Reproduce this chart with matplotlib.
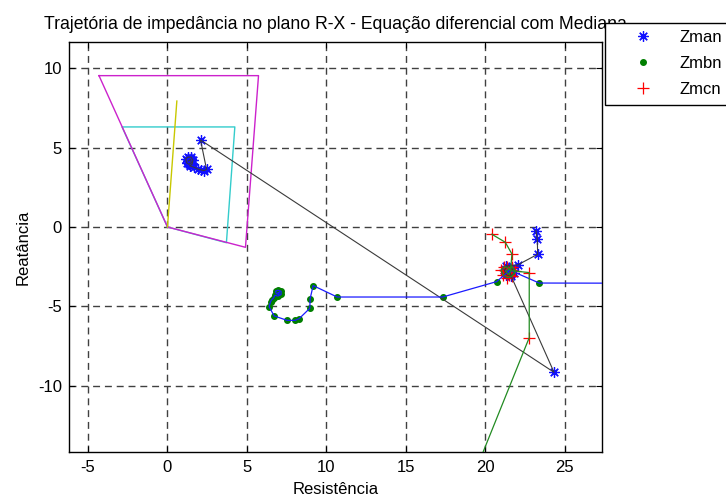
import matplotlib
matplotlib.use("Agg")
import matplotlib.pyplot as plt

plt.rcParams['font.family'] = ['Liberation Sans', 'DejaVu Sans']
plt.rcParams['axes.unicode_minus'] = False

# Relay characteristic zones (R, X)
zone2_r = [-4.31, 5.73, 4.91, 0.0, -4.31]
zone2_x = [9.53, 9.53, -1.28, 0.0, 9.53]
zone1_r = [0.0, 3.71, 4.24, -2.86, 0.0]
zone1_x = [0.0, -0.99, 6.30, 6.30, 0.0]
line_r = [0.0, 0.59]
line_x = [0.0, 7.93]

# Phase A apparent impedance trajectory
zman_r = [1.30, 1.45, 1.50, 1.35, 1.20, 1.15, 1.30, 1.50, 1.60, 1.55, 1.40, 1.70,
          1.90, 2.10, 2.30, 2.46, 2.08, 24.33,
          21.50, 21.40, 21.70, 21.80, 21.60, 21.30, 21.20, 21.40, 21.30, 22.04,
          23.30, 23.28, 23.19]
zman_x = [4.15, 4.25, 4.05, 3.95, 4.05, 4.30, 4.40, 4.40, 4.20, 3.95, 3.85, 3.75,
          3.65, 3.60, 3.55, 3.63, 5.48, -9.15,
          -2.80, -2.85, -2.60, -2.90, -3.10, -3.00, -2.70, -2.50, -2.45, -2.39,
          -1.72, -0.78, -0.23]

# Phase B apparent impedance trajectory
zmbn_r = [6.95, 7.05, 7.00, 6.85, 6.80, 6.95, 7.15, 7.15, 6.95, 6.75, 6.70, 6.55,
          6.49, 6.40, 6.71, 7.53, 8.04, 8.29, 8.96, 8.98, 9.17, 10.68, 17.32,
          20.72, 21.45, 21.30, 21.55, 21.60, 21.40, 21.50, 23.40, 35.00]
zmbn_x = [-4.15, -4.10, -4.25, -4.20, -4.05, -3.98, -4.05, -4.25, -4.35, -4.30, -4.45, -4.60,
          -4.70, -5.02, -5.60, -5.88, -5.88, -5.77, -5.12, -4.51, -3.69, -4.41, -4.41,
          -3.44, -2.81, -2.75, -2.65, -2.85, -2.90, -2.70, -3.53, -3.55]

# Phase C apparent impedance trajectory
zmcn_r = [20.42, 21.26, 21.68, 21.60, 21.40, 21.20, 21.00, 21.10, 21.40, 21.70, 21.90,
          21.70, 21.30, 21.50, 21.60, 22.77, 22.77, 19.29]
zmcn_x = [-0.46, -0.96, -1.70, -2.70, -2.55, -2.50, -2.70, -3.00, -3.20, -3.10, -2.80,
          -2.50, -2.80, -3.00, -2.75, -2.87, -6.97, -15.60]

x_ticks = [-5, 0, 5, 10, 15, 20, 25]
y_ticks = [-10, -5, 0, 5, 10]

fig = plt.figure(figsize=(7.26, 5.01), dpi=100)
ax = fig.add_axes([0.0950, 0.0978, 0.7342, 0.8184])

ax.plot(zone1_r, zone1_x, color='#33cccc', lw=1.0, zorder=2)
ax.plot(zone2_r, zone2_x, color='#cc22cc', lw=1.0, zorder=2)
ax.plot(line_r, line_x, color='#c8c800', lw=1.0, zorder=2)

h1, = ax.plot(zman_r, zman_x, linestyle='none', marker=(8, 2, 0), ms=7.5,
              mec='#1010ff', mew=0.9, label='Zman', zorder=3)
h2, = ax.plot(zmbn_r, zmbn_x, linestyle='none', marker='o', ms=4,
              mfc='#007f00', mec='#007f00', label='Zmbn', zorder=3)
h3, = ax.plot(zmcn_r, zmcn_x, linestyle='none', marker='+', ms=8,
              mec='#ff0000', mew=0.9, label='Zmcn', zorder=3)

ax.plot(zman_r, zman_x, color='#3a3a3a', lw=0.8, zorder=4)
ax.plot(zmbn_r, zmbn_x, color='#1a1aff', lw=0.9, zorder=4)
ax.plot(zmcn_r, zmcn_x, color='#228b22', lw=0.9, zorder=4)

ax.set_xlim(-6.2, 27.35)
ax.set_ylim(-14.17, 11.65)
ax.set_xticks(x_ticks)
ax.set_yticks(y_ticks)
ax.grid(True, color='#404040', lw=1.0, linestyle=(0, (5, 3.5)))
ax.set_axisbelow(True)
ax.tick_params(direction='in', top=True, right=True, length=4, labelsize=12)
ax.tick_params(axis='x', pad=6)
ax.tick_params(axis='y', pad=5)
for s in ax.spines.values():
    s.set_linewidth(1.0)

ax.set_title('Trajetória de impedância no plano R-X - Equação diferencial com Mediana',
             fontsize=12.7, pad=9)
ax.set_xlabel('Resistência', fontsize=12, labelpad=5)
ax.set_ylabel('Reatância', fontsize=12, labelpad=5)

leg = fig.legend(handles=[h1, h2, h3], loc='upper left',
                 bbox_to_anchor=(605 / 726, 1 - 22.7 / 501), borderaxespad=0,
                 fontsize=12, fancybox=False, framealpha=1, edgecolor='black',
                 borderpad=0.45, handlelength=3.7, handletextpad=0.3,
                 labelspacing=0.66, numpoints=1)
leg.get_frame().set_linewidth(1.0)

fig.savefig('out.png', dpi=100)
